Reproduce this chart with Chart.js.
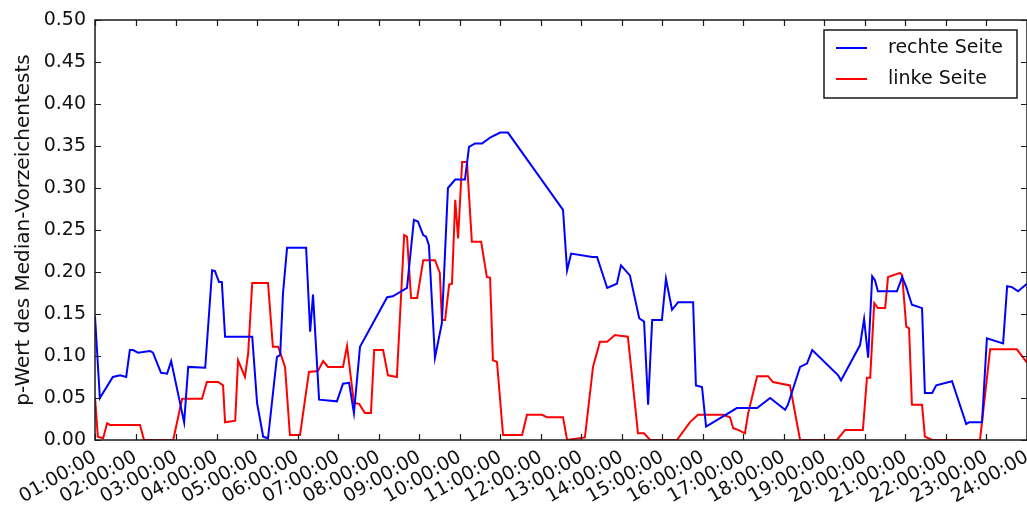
<!DOCTYPE html>
<html>
<head>
<meta charset="utf-8">
<script src="https://cdn.jsdelivr.net/npm/chart.js@4.4.0/dist/chart.umd.min.js"></script>
<style>
    html, body { margin: 0; padding: 0; background: #fff; }
</style>
</head>
<body>
<canvas id="chart" width="1027" height="509"></canvas>
<script>
// Uhrzeit in Stunden (1 = 01:00:00) und p-Werte
var rechteZeit = [1.00, 1.12, 1.44, 1.62, 1.77, 1.86, 1.94, 2.06, 2.36, 2.43,
    2.63, 2.78, 2.88, 3.20, 3.30, 3.72, 3.89, 3.96, 4.06, 4.13,
    4.21, 4.88, 5.00, 5.15, 5.27, 5.49, 5.57, 5.64, 5.74, 6.21,
    6.31, 6.38, 6.53, 6.97, 7.12, 7.27, 7.39, 7.54, 8.21, 8.35,
    8.70, 8.87, 8.97, 9.10, 9.17, 9.24, 9.39, 9.56, 9.71, 9.89,
    10.13, 10.23, 10.38, 10.55, 10.75, 11.00, 11.19, 12.55, 12.65, 12.75,
    13.27, 13.39, 13.64, 13.88, 13.98, 14.20, 14.43, 14.55, 14.65, 14.75,
    14.99, 15.09, 15.24, 15.39, 15.76, 15.83, 15.98, 16.08, 16.84, 17.34,
    17.66, 18.03, 18.10, 18.40, 18.57, 18.70, 19.34, 19.41, 19.88, 19.98,
    20.08, 20.18, 20.25, 20.32, 20.79, 20.92, 21.02, 21.16, 21.41, 21.48,
    21.66, 21.76, 22.15, 22.50, 22.57, 22.89, 23.01, 23.41, 23.51, 23.63,
    23.78, 24.00];
var rechteWert = [0.147, 0.050, 0.075, 0.077, 0.075, 0.107, 0.107, 0.104, 0.106, 0.104,
    0.080, 0.079, 0.094, 0.021, 0.087, 0.086, 0.202, 0.201, 0.188, 0.188,
    0.123, 0.123, 0.044, 0.004, 0.002, 0.099, 0.101, 0.175, 0.229, 0.229,
    0.129, 0.173, 0.048, 0.046, 0.067, 0.068, 0.032, 0.111, 0.170, 0.171,
    0.181, 0.262, 0.260, 0.244, 0.242, 0.232, 0.098, 0.139, 0.300, 0.310,
    0.310, 0.349, 0.353, 0.353, 0.360, 0.366, 0.366, 0.274, 0.202, 0.222,
    0.218, 0.218, 0.181, 0.186, 0.208, 0.196, 0.145, 0.141, 0.042, 0.143,
    0.143, 0.192, 0.155, 0.164, 0.164, 0.065, 0.063, 0.016, 0.038, 0.038,
    0.050, 0.036, 0.042, 0.087, 0.091, 0.107, 0.077, 0.071, 0.113, 0.144,
    0.098, 0.195, 0.190, 0.177, 0.177, 0.194, 0.182, 0.161, 0.157, 0.056,
    0.056, 0.065, 0.070, 0.019, 0.021, 0.021, 0.121, 0.115, 0.183, 0.182,
    0.177, 0.186];

var linkeZeit = [1.00, 1.07, 1.20, 1.30, 1.37, 2.11, 2.21, 2.93, 3.15, 3.64,
    3.76, 4.04, 4.16, 4.21, 4.46, 4.53, 4.70, 4.78, 4.88, 5.27,
    5.39, 5.52, 5.69, 5.81, 6.06, 6.28, 6.50, 6.63, 6.75, 7.12,
    7.22, 7.39, 7.52, 7.66, 7.81, 7.89, 8.11, 8.23, 8.45, 8.63,
    8.70, 8.80, 8.95, 9.10, 9.39, 9.51, 9.56, 9.64, 9.74, 9.81,
    9.89, 9.96, 10.06, 10.18, 10.30, 10.53, 10.67, 10.75, 10.82, 10.92,
    11.07, 11.54, 11.66, 12.03, 12.16, 12.55, 12.65, 13.09, 13.29, 13.46,
    13.64, 13.83, 13.96, 14.15, 14.40, 14.55, 14.70, 15.36, 15.68, 15.88,
    16.50, 16.67, 16.75, 16.87, 17.04, 17.12, 17.34, 17.61, 17.73, 18.15,
    18.40, 19.31, 19.51, 19.95, 20.05, 20.13, 20.23, 20.32, 20.50, 20.57,
    20.87, 20.92, 21.02, 21.09, 21.16, 21.41, 21.48, 21.66, 22.84, 23.09,
    23.75, 24.00];
var linkeWert = [0.051, 0.004, 0.002, 0.020, 0.018, 0.018, 0.000, 0.000, 0.049, 0.049,
    0.069, 0.069, 0.065, 0.021, 0.023, 0.095, 0.075, 0.103, 0.187, 0.187,
    0.111, 0.111, 0.087, 0.006, 0.006, 0.081, 0.082, 0.094, 0.087, 0.087,
    0.112, 0.044, 0.043, 0.032, 0.032, 0.107, 0.107, 0.077, 0.075, 0.244,
    0.242, 0.169, 0.169, 0.214, 0.214, 0.199, 0.143, 0.143, 0.185, 0.186,
    0.286, 0.240, 0.331, 0.331, 0.236, 0.236, 0.194, 0.193, 0.095, 0.093,
    0.006, 0.006, 0.030, 0.030, 0.027, 0.027, 0.000, 0.003, 0.087, 0.117,
    0.117, 0.125, 0.124, 0.123, 0.008, 0.008, 0.000, 0.000, 0.021, 0.030,
    0.030, 0.027, 0.014, 0.012, 0.008, 0.032, 0.076, 0.076, 0.069, 0.065,
    0.000, 0.000, 0.012, 0.012, 0.074, 0.074, 0.163, 0.157, 0.157, 0.194,
    0.199, 0.196, 0.135, 0.133, 0.042, 0.042, 0.004, 0.000, 0.000, 0.108,
    0.108, 0.092];

var zeitLabels = ['01:00:00', '02:00:00', '03:00:00', '04:00:00', '05:00:00', '06:00:00',
    '07:00:00', '08:00:00', '09:00:00', '10:00:00', '11:00:00', '12:00:00',
    '13:00:00', '14:00:00', '15:00:00', '16:00:00', '17:00:00', '18:00:00',
    '19:00:00', '20:00:00', '21:00:00', '22:00:00', '23:00:00', '24:00:00'];

function punkte(zeit, wert) {
    return zeit.map(function (t, i) { return { x: t, y: wert[i] }; });
}

var schrift = 'DejaVu Sans';

// Rahmen, nach innen zeigende Ticks und Legende wie bei matplotlib
var rahmen = {
    id: 'rahmen',
    afterDatasetsDraw: function (chart) {
        var a = chart.chartArea, c = chart.ctx;
        var xs = chart.scales.x, ys = chart.scales.y;
        c.save();
        c.strokeStyle = '#1a1a1a';
        c.lineWidth = 1.5;
        c.strokeRect(a.left, a.top, a.right - a.left, a.bottom - a.top);
        c.lineWidth = 1.2;
        c.beginPath();
        xs.ticks.forEach(function (t) {
            var px = Math.round(xs.getPixelForValue(t.value)) + 0.5;
            c.moveTo(px, a.bottom); c.lineTo(px, a.bottom - 6);
            c.moveTo(px, a.top); c.lineTo(px, a.top + 6);
        });
        ys.ticks.forEach(function (t) {
            var py = Math.round(ys.getPixelForValue(t.value)) + 0.5;
            c.moveTo(a.left, py); c.lineTo(a.left + 6, py);
            c.moveTo(a.right, py); c.lineTo(a.right - 6, py);
        });
        c.stroke();

        // Legende
        var lx = 824, ly = 30, lw = 193, lh = 68;
        c.fillStyle = '#fff';
        c.fillRect(lx, ly, lw, lh);
        c.lineWidth = 1.5;
        c.strokeStyle = '#1a1a1a';
        c.strokeRect(lx, ly, lw, lh);
        c.font = '19px "' + schrift + '"';
        c.textBaseline = 'middle';
        chart.data.datasets.forEach(function (ds, i) {
            var y = ly + 18 + i * 31;
            c.strokeStyle = ds.borderColor;
            c.lineWidth = 2;
            c.beginPath();
            c.moveTo(lx + 12, y); c.lineTo(lx + 43, y);
            c.stroke();
            c.fillStyle = '#111';
            c.fillText(ds.label, lx + 64, y);
        });
        c.restore();
    }
};

new Chart(document.getElementById('chart'), {
    type: 'line',
    data: {
        datasets: [
            {
                label: 'rechte Seite',
                data: punkte(rechteZeit, rechteWert),
                borderColor: '#0000ff',
                borderWidth: 2,
                pointRadius: 0,
                tension: 0
            }, {
                label: 'linke Seite',
                data: punkte(linkeZeit, linkeWert),
                borderColor: '#ff0000',
                borderWidth: 2,
                pointRadius: 0,
                tension: 0
            }
        ]
    },
    options: {
        responsive: false,
        animation: false,
        events: [],
        layout: { padding: { top: 20, right: 0, left: 0, bottom: 0 } },
        scales: {
            x: {
                type: 'linear',
                min: 1,
                max: 24,
                grid: { display: false, drawTicks: false },
                border: { display: false },
                ticks: {
                    stepSize: 1,
                    autoSkip: false,
                    maxRotation: 30,
                    minRotation: 30,
                    padding: 6,
                    color: '#111',
                    font: { family: schrift, size: 19 },
                    callback: function (value) { return zeitLabels[value - 1]; }
                },
                afterFit: function (scale) {
                    scale.height = 69;
                    scale.paddingLeft = 0;
                    scale.paddingRight = 0;
                }
            },
            y: {
                min: 0,
                max: 0.5,
                grid: { display: false, drawTicks: false },
                border: { display: false },
                ticks: {
                    stepSize: 0.05,
                    padding: 9,
                    color: '#111',
                    font: { family: schrift, size: 19 },
                    callback: function (value) { return value.toFixed(2); }
                },
                title: {
                    display: true,
                    text: 'p-Wert des Median-Vorzeichentests',
                    color: '#111',
                    font: { family: schrift, size: 20 },
                    padding: { top: 12, bottom: 0 }
                },
                afterFit: function (scale) {
                    scale.width = 95;
                    scale.paddingTop = 0;
                    scale.paddingBottom = 0;
                }
            }
        },
        plugins: {
            legend: { display: false },
            tooltip: { enabled: false }
        }
    },
    plugins: [rahmen]
});
</script>
</body>
</html>
